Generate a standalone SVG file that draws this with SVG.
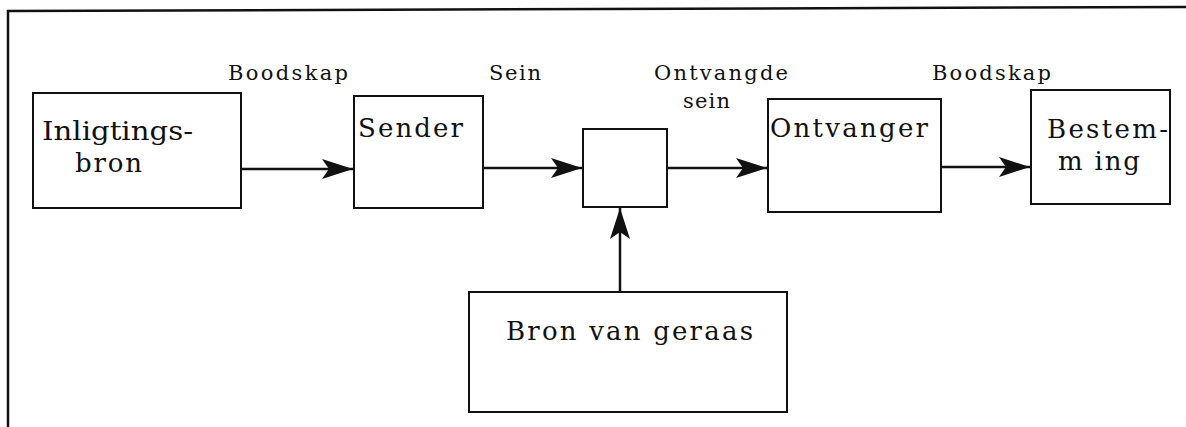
<svg xmlns="http://www.w3.org/2000/svg" width="1186" height="427" viewBox="0 0 1186 427">
<style>
.box{fill:#fff;stroke:#111;stroke-width:2}
.frame{fill:none;stroke:#111;stroke-width:2.5}
.lbl{font-family:"DejaVu Serif","Liberation Serif",serif;font-size:21px;fill:#111}
.nt{font-family:"DejaVu Serif","Liberation Serif",serif;font-size:26px;fill:#111}
.conn{stroke:#111;stroke-width:2.5;fill:none}
</style>
<defs>
<marker id="ah" markerUnits="userSpaceOnUse" markerWidth="34" markerHeight="24" viewBox="-32 -12 34 24" refX="0" refY="0" orient="auto">
<path d="M0,0 L-31,-10 L-24,0 L-31,10 Z" fill="#111"/>
</marker>
</defs>
<rect width="1186" height="427" fill="#fff"/>
<path class="frame" d="M8,427 L8,11 L600,9 L1186,7"/>
<g id="connectors">
<line class="conn" x1="241" y1="169" x2="353" y2="169" marker-end="url(#ah)"/>
<line class="conn" x1="483" y1="168" x2="582" y2="168" marker-end="url(#ah)"/>
<line class="conn" x1="667" y1="168" x2="767" y2="168" marker-end="url(#ah)"/>
<line class="conn" x1="941" y1="167" x2="1030" y2="167" marker-end="url(#ah)"/>
<line class="conn" x1="620" y1="292" x2="620" y2="208" marker-end="url(#ah)"/>
<text class="lbl" x="228" y="80" textLength="120" lengthAdjust="spacing">Boodskap</text>
<text class="lbl" x="489" y="80" textLength="52" lengthAdjust="spacing">Sein</text>
<text class="lbl" x="654" y="80" textLength="134" lengthAdjust="spacing">Ontvangde</text>
<text class="lbl" x="683" y="108" textLength="47" lengthAdjust="spacing">sein</text>
<text class="lbl" x="932" y="80" textLength="119" lengthAdjust="spacing">Boodskap</text>
</g>
<g id="inligtingsbron">
<rect class="box" x="33" y="93" width="208" height="115"/>
<text class="nt" x="42" y="140" textLength="151" lengthAdjust="spacingAndGlyphs">Inligtings-</text>
<text class="nt" x="75" y="172" textLength="67" lengthAdjust="spacing">bron</text>
</g>
<g id="sender">
<rect class="box" x="354" y="96" width="129" height="112"/>
<text class="nt" x="358" y="137" textLength="105" lengthAdjust="spacing">Sender</text>
</g>
<g id="kanaal">
<rect class="box" x="583" y="129" width="84" height="78"/>
</g>
<g id="ontvanger">
<rect class="box" x="768" y="99" width="173" height="113"/>
<text class="nt" x="770" y="137" textLength="158" lengthAdjust="spacing">Ontvanger</text>
</g>
<g id="bestemming">
<rect class="box" x="1031" y="90" width="139" height="114"/>
<text class="nt" x="1047" y="138" textLength="121" lengthAdjust="spacing">Bestem-</text>
<text class="nt" x="1058" y="170" textLength="82" lengthAdjust="spacing">m ing</text>
</g>
<g id="bron-van-geraas">
<rect class="box" x="469" y="292" width="318" height="120"/>
<text class="nt" x="506" y="340" textLength="247" lengthAdjust="spacing">Bron van geraas</text>
</g>
</svg>
